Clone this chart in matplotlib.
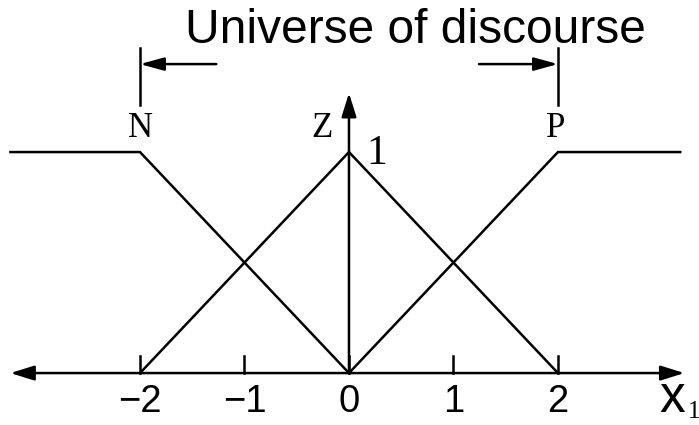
import matplotlib
matplotlib.use("Agg")
import matplotlib.pyplot as plt

# ---- data ----
N_x = [-3.24, -2, 0]
N_y = [1, 1, 0]
Z_x = [-2, 0, 2]
Z_y = [0, 1, 0]
P_x = [0, 2, 3.17]
P_y = [0, 1, 1]
tick_vals = [-2, -1, 0, 1, 2]
tick_labels = ["\u22122", "\u22121", "0", "1", "2"]
set_names = ["N", "Z", "P"]
set_label_x = [-2, -0.26, 1.98]
universe = [-2, 2]

fig = plt.figure(figsize=(6.99, 4.25), dpi=100)
ax = fig.add_axes([0, 0, 1, 1])
ax.set_xlim(-3.34, 3.35)
ax.set_ylim(-0.235, 1.688)
ax.axis("off")

lw = 1.8
for xs, ys in [(N_x, N_y), (Z_x, Z_y), (P_x, P_y)]:
    ax.plot(xs, ys, color="black", lw=lw, solid_joinstyle="miter")

sans = "Liberation Sans"
serif = "Liberation Serif"

# x axis with arrows on both ends
ax.annotate("", xy=(3.21, 0), xytext=(-3.24, 0),
            arrowprops=dict(arrowstyle="<|-|>,head_length=0.8,head_width=0.25",
                            lw=lw, color="black", shrinkA=0, shrinkB=0,
                            mutation_scale=18))
# vertical axis
ax.annotate("", xy=(0, 1.267), xytext=(0, 0),
            arrowprops=dict(arrowstyle="-|>,head_length=0.8,head_width=0.25",
                            lw=lw, color="black", shrinkA=0, shrinkB=0,
                            mutation_scale=18))

# ticks
for v, lab in zip(tick_vals, tick_labels):
    ax.plot([v, v], [0, 0.077], color="black", lw=lw)
    ax.text(v, -0.176, lab, fontsize=27.5, family=sans, ha="center", va="baseline")

# x1 label
ax.text(2.97, -0.176, "x", fontsize=37, family=sans, ha="left", va="baseline")
ax.text(3.24, -0.205, "1", fontsize=18, family=serif, ha="left", va="baseline")

# set names
for name, xpos in zip(set_names, set_label_x):
    ax.text(xpos, 1.068, name, fontsize=25, family=serif, ha="center", va="baseline")
ax.text(0.27, 0.945, "1", fontsize=30, family=serif, ha="center", va="baseline")

# universe of discourse bracket
for u in universe:
    ax.plot([u, u], [1.213, 1.471], color="black", lw=lw)
ax.annotate("", xy=(universe[0], 1.398), xytext=(-1.27, 1.398),
            arrowprops=dict(arrowstyle="-|>,head_length=0.8,head_width=0.22",
                            lw=lw, color="black", shrinkA=0, shrinkB=0,
                            mutation_scale=18))
ax.annotate("", xy=(universe[1], 1.398), xytext=(1.245, 1.398),
            arrowprops=dict(arrowstyle="-|>,head_length=0.8,head_width=0.22",
                            lw=lw, color="black", shrinkA=0, shrinkB=0,
                            mutation_scale=18))
ax.text(0.64, 1.493, "Universe of discourse", fontsize=34.5, family=sans,
        ha="center", va="baseline")

fig.savefig("out.png", dpi=100)
